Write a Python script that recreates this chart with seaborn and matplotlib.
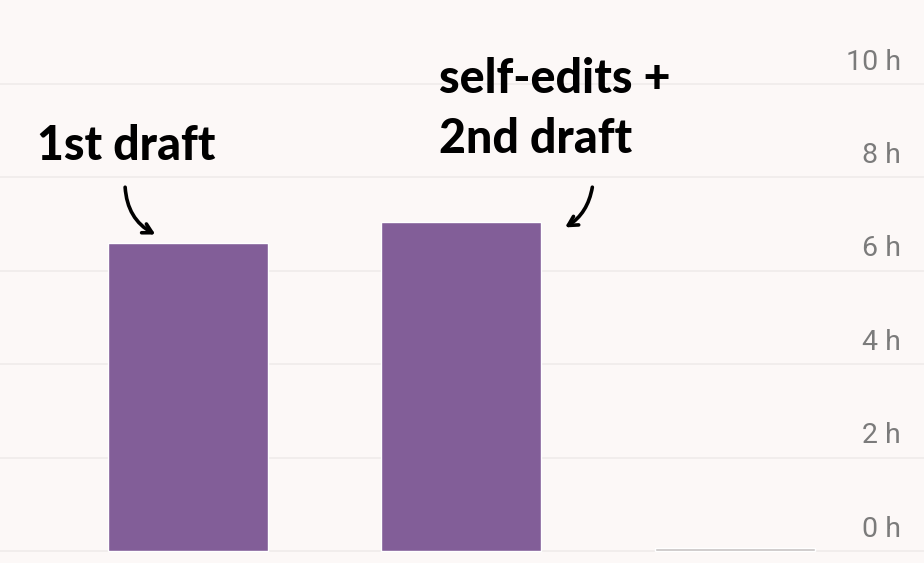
import matplotlib
matplotlib.use("Agg")
import matplotlib.pyplot as plt
import seaborn as sns
import pandas as pd

# data
categories = ["1st draft", "self-edits + 2nd draft", "3rd draft"]
hours = [6.6, 7.05, 0.06]
bar_colors = ["#825e98", "#825e98", "#c6c3c3"]
tick_values = [0, 2, 4, 6, 8, 10]
tick_labels = ["0 h", "2 h", "4 h", "6 h", "8 h", "10 h"]

BG = "#fcf8f7"

sns.set_theme(style="white")
plt.rcParams["font.family"] = ["Lato", "DejaVu Sans"]

df = pd.DataFrame({"stage": categories, "hours": hours})

fig = plt.figure(figsize=(9.24, 5.63), dpi=100, facecolor=BG)
ax = fig.add_axes([0, 0, 1, 1])
ax.set_facecolor(BG)

sns.barplot(data=df, x="stage", y="hours", hue="stage", palette=bar_colors,
            legend=False, width=0.585, saturation=1, ax=ax, zorder=3)

ax.set_xlim(-0.687, 2.691)
ax.set_ylim(-0.257, 11.8)

# gridlines + tick labels sitting above them on the right
for v, lab in zip(tick_values, tick_labels):
    ax.axhline(v, color="#efebea", lw=1.2, zorder=1)
    ax.text(0.975, v + 0.47, lab, transform=ax.get_yaxis_transform(),
            ha="right", va="center", fontsize=20.5, color="#7b7b7b",
            family=["Roboto", "DejaVu Sans"])

ax.set_xticks([])
ax.set_yticks([])
ax.set_xlabel("")
ax.set_ylabel("")
for s in ax.spines.values():
    s.set_visible(False)

# hand-drawn style annotations
note_kw = dict(fontsize=33.5, fontweight="black", color="black",
               ha="left", va="baseline")
ax.text(-0.55, 8.37, "1st draft", **note_kw)
ax.text(0.918, 9.81, "self-edits +", **note_kw)
ax.text(0.918, 8.52, "2nd draft", **note_kw)

arrow_style = "->,head_length=0.55,head_width=0.3"
ax.annotate("", xy=(-0.11, 6.75), xytext=(-0.23, 7.85),
            arrowprops=dict(arrowstyle=arrow_style, color="black", lw=2.6,
                            capstyle="round", joinstyle="round",
                            connectionstyle="arc3,rad=0.3"))
ax.annotate("", xy=(1.37, 6.9), xytext=(1.48, 7.85),
            arrowprops=dict(arrowstyle=arrow_style, color="black", lw=2.6,
                            capstyle="round", joinstyle="round",
                            connectionstyle="arc3,rad=-0.25"))

fig.savefig("out.png", dpi=100, facecolor=BG)
